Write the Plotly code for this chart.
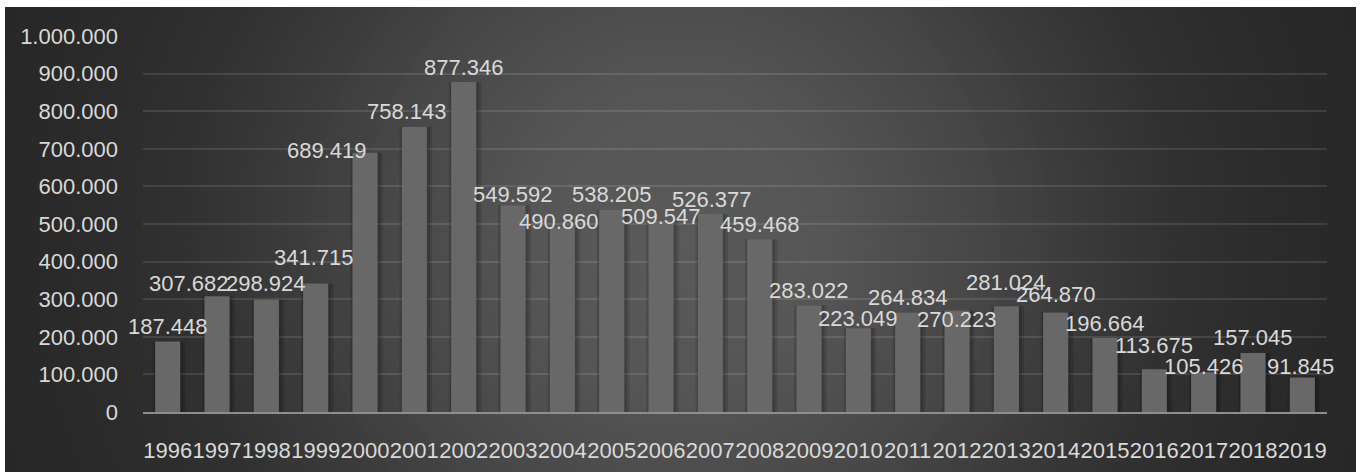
import plotly.graph_objects as go

years = ["1996", "1997", "1998", "1999", "2000", "2001", "2002", "2003", "2004", "2005",
         "2006", "2007", "2008", "2009", "2010", "2011", "2012", "2013", "2014", "2015",
         "2016", "2017", "2018", "2019"]
values = [187448, 307682, 298924, 341715, 689419, 758143, 877346, 549592, 490860, 538205,
          509547, 526377, 459468, 283022, 223049, 264834, 270223, 281024, 264870, 196664,
          113675, 105426, 157045, 91845]
labels = [f"{v:,}".replace(",", ".") for v in values]
tick_vals = list(range(0, 1000001, 100000))
tick_text = [f"{v:,}".replace(",", ".") for v in tick_vals]

# manual data-label nudges (px; dx right, dy down) as placed in the original chart
label_dx = [0, -28, 0, -2, -38, -7, 0, 0, -3, 0, 0, 2, 0, 0, 0, 0, 0, 0, 0, 0, 0, 0, 0, -2]
label_dy = [0, 2, -1, -11, 13, 0, 0, 4, 9, 0, 11, 0, 0, 0, 5, 0, 24, -9, -3, 0, -9, 9, 0, 4]

FW, FH = 1362, 472
L, R, T, B = 143, 35, 36, 60
PW, PH = FW - L - R, FH - T - B
LABEL_GAP = 15


def px2x(px):
    return (px - L) / PW


def py2y(py):
    return (FH - B - py) / PH


# radial background gradient (decorative)
stops = [(0, 0x5a), (150, 0x56), (300, 0x47), (400, 0x3b), (500, 0x31), (600, 0x2b), (750, 0x26), (900, 0x25)]


def shade(d):
    for (d0, c0), (d1, c1) in zip(stops, stops[1:]):
        if d <= d1:
            t = (d - d0) / (d1 - d0)
            return int(round(c0 + (c1 - c0) * t))
    return stops[-1][1]


shapes = [dict(type="rect", xref="paper", yref="paper", x0=px2x(0), x1=px2x(FW),
               y0=py2y(FH), y1=py2y(0), fillcolor="#252525", line_width=0, layer="below")]
cx, cy = 680, 240
for r in range(900, 0, -10):
    c = shade(r)
    shapes.append(dict(type="circle", xref="paper", yref="paper",
                       x0=px2x(cx - r), x1=px2x(cx + r), y0=py2y(cy + r), y1=py2y(cy - r),
                       fillcolor=f"rgb({c},{c},{c})", line_width=0, layer="below"))
# white outer margins
for (a, b, c_, d) in [(0, 5, 0, FH), (1356, FW, 0, FH), (0, FW, 0, 7)]:
    shapes.append(dict(type="rect", xref="paper", yref="paper", x0=px2x(a), x1=px2x(b),
                       y0=py2y(d), y1=py2y(c_), fillcolor="white", line_width=0, layer="above"))

fig = go.Figure()
# soft shadow
fig.add_trace(go.Bar(x=years, y=values, width=0.66, offset=-0.30,
                     marker=dict(color="rgba(0,0,0,0.13)", line_width=0), hoverinfo="skip"))
fig.add_trace(go.Bar(x=years, y=values, width=0.58, offset=-0.27,
                     marker=dict(color="rgba(0,0,0,0.13)", line_width=0), hoverinfo="skip"))
fig.add_trace(go.Bar(x=years, y=values, width=0.51, offset=-0.255,
                     marker=dict(color="#686868", line_width=0)))

annotations = []
for i, (v, t, dx, dy) in enumerate(zip(values, labels, label_dx, label_dy)):
    annotations.append(dict(x=i, y=v, xref="x", yref="y", text=t, showarrow=False,
                            xanchor="center", yanchor="middle",
                            xshift=dx, yshift=LABEL_GAP - dy,
                            font=dict(family="Liberation Sans", size=22, color="#d9d9d9")))

fig.update_layout(
    width=FW, height=FH,
    margin=dict(l=L, r=R, t=T, b=B, autoexpand=False),
    paper_bgcolor="white", plot_bgcolor="rgba(0,0,0,0)",
    barmode="overlay", showlegend=False,
    shapes=shapes, annotations=annotations,
    font=dict(family="Liberation Sans", size=22, color="#d9d9d9"),
    xaxis=dict(type="category", range=[-0.5, len(years) - 0.5], showgrid=False, showline=True,
               linecolor="#8e8e8e", linewidth=2,
               ticks="", tickangle=0, automargin=False, ticklabelstandoff=18,
               tickfont=dict(size=22, color="#d9d9d9")),
    yaxis=dict(range=[0, 1000000], tickvals=tick_vals, ticktext=tick_text, showgrid=True,
               gridcolor="rgba(255,255,255,0.11)", gridwidth=2, zeroline=False, showline=False,
               ticks="", automargin=False, ticklabelstandoff=24,
               tickfont=dict(size=22, color="#d9d9d9")),
)

fig.write_html("out.html")
